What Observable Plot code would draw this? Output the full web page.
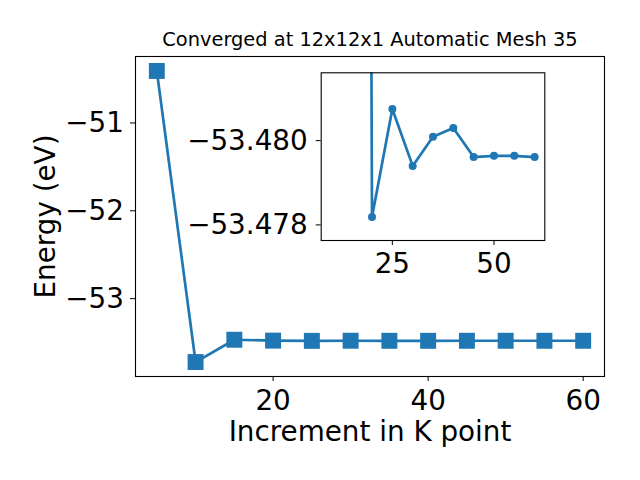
<!DOCTYPE html>
<html>
<head>
<meta charset="utf-8">
<script src="https://cdn.jsdelivr.net/npm/d3@7"></script>
<script src="https://cdn.jsdelivr.net/npm/@observablehq/plot@0.6"></script>
<style>
  html, body { margin: 0; padding: 0; background: white; }
  #wrap { position: relative; width: 640px; height: 480px; }
  #wrap svg { position: absolute; left: 0; top: 0; }
</style>
</head>
<body>
<div id="wrap"></div>
<script>
const kpoints = [5, 10, 15, 20, 25, 30, 35, 40, 45, 50, 55, 60];
const energy = [-50.408, -53.722, -53.468, -53.47819, -53.48075, -53.47940, -53.48009, -53.48030, -53.47961, -53.47964, -53.47964, -53.47961];
const insetK = [10, 20, 25, 30, 35, 40, 45, 50, 55, 60];
const insetEnergy = [-53.722, -53.47819, -53.48075, -53.47940, -53.48009, -53.48030, -53.47961, -53.47964, -53.47964, -53.47961];
const xTicks = [20, 40, 60];
const yTicks = [-51, -52, -53];
const insetXTicks = [25, 50];
const insetYTicks = [-53.480, -53.478];
const titleText = "Converged at 12x12x1 Automatic Mesh 35";
const xLabel = "Increment in K point";
const yLabel = "Energy (eV)";

const blue = "#1f77b4";
const main = kpoints.map((k, i) => ({k, e: energy[i]}));
const inset = insetK.map((k, i) => ({k, e: insetEnergy[i]}));
const font = "DejaVu Sans, sans-serif";
const big = 27.8;

const mainPlot = Plot.plot({
  width: 640, height: 480,
  marginLeft: 135, marginRight: 36, marginTop: 56, marginBottom: 104,
  style: {fontFamily: font, fontSize: big + "px", background: "white", color: "black"},
  x: {domain: [2.25, 62.75], label: null},
  y: {domain: [-53.8865, -50.2435], label: null},
  marks: [
    Plot.frame({stroke: "black", strokeWidth: 1.1}),
    Plot.axisX({ticks: xTicks, tickSize: 5, tickPadding: 9, tickFormat: d3.format("d"), label: null, fontSize: big}),
    Plot.axisY({ticks: yTicks, tickSize: 5, tickPadding: 6.5, tickFormat: d3.format("d"), label: null, fontSize: big}),
    Plot.line(main, {x: "k", y: "e", stroke: blue, strokeWidth: 2.7}),
    Plot.dot(main, {x: "k", y: "e", symbol: "square", r: 9, fill: blue, stroke: null}),
    Plot.text([titleText], {frameAnchor: "top", lineAnchor: "middle", textAnchor: "middle", dy: -17, fontSize: 19.4, fill: "black"}),
    Plot.text([xLabel], {frameAnchor: "bottom", lineAnchor: "middle", textAnchor: "middle", dy: 56, fontSize: big, fill: "black"}),
    Plot.text([yLabel], {frameAnchor: "left", lineAnchor: "middle", textAnchor: "middle", dx: -89, rotate: -90, fontSize: big, fill: "black"})
  ]
});

const insetPlot = Plot.plot({
  width: 640, height: 480,
  marginLeft: 320.7, marginRight: 95.7, marginTop: 72.3, marginBottom: 240,
  style: {fontFamily: font, fontSize: big + "px", background: "transparent", color: "black"},
  x: {domain: [7.5, 62.5], label: null},
  y: {domain: [-53.47763, -53.48161], label: null},
  marks: [
    Plot.frame({fill: "white", stroke: null}),
    Plot.line(inset, {x: "k", y: "e", stroke: blue, strokeWidth: 2.7, clip: true}),
    Plot.dot(inset, {x: "k", y: "e", r: 4, fill: blue, stroke: null, clip: true}),
    Plot.frame({stroke: "black", strokeWidth: 1.1}),
    Plot.axisX({ticks: insetXTicks, tickSize: 5, tickPadding: 8, tickFormat: d3.format("d"), label: null, fontSize: big}),
    Plot.axisY({ticks: insetYTicks, tickSize: 5, tickPadding: 8.5, tickFormat: d3.format(".3f"), label: null, fontSize: big})
  ]
});

document.getElementById("wrap").append(mainPlot, insetPlot);
</script>
</body>
</html>
